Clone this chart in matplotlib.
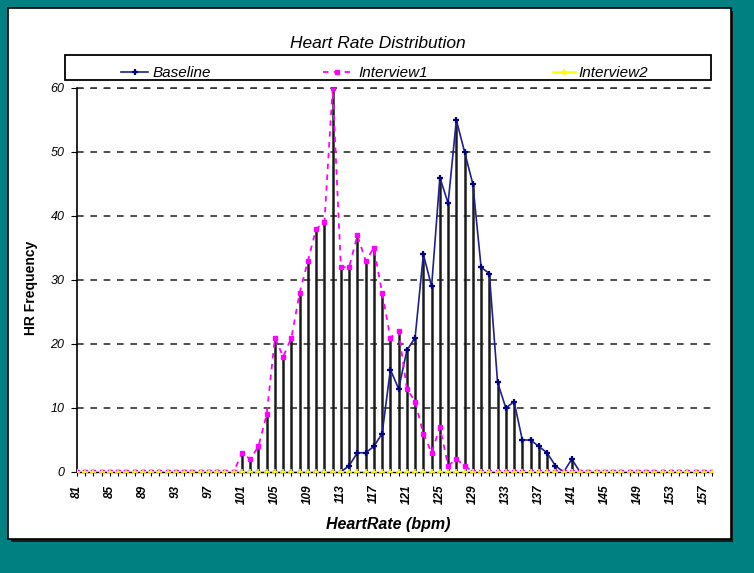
import matplotlib
matplotlib.use("Agg")
import matplotlib.pyplot as plt
from matplotlib.patches import Rectangle
from matplotlib.lines import Line2D
import numpy as np

# ---- data ----
heart_rate = list(range(81, 159))  # 81 .. 158 bpm
tick_labels = [str(v) for v in range(81, 158, 4)]

baseline = ([0] * 32 +                      # 81-112
            [0, 1, 3, 3, 4, 6, 16, 13, 19, 21,   # 113-122
             34, 29, 46, 42, 55, 50, 45, 32, 31, 14,  # 123-132
             10, 11, 5, 5, 4, 3, 1, 0, 2] +   # 133-141
            [0] * 17)                        # 142-158
interview1 = ([0] * 20 +                     # 81-100
              [3, 2, 4, 9, 21, 18, 21, 28, 33, 38,   # 101-110
               39, 60, 32, 32, 37, 33, 35, 28, 21, 22,  # 111-120
               13, 11, 6, 3, 7, 1, 2, 1] +    # 121-128
              [0] * 30)                      # 129-158
interview2 = [0] * 78

series_names = ["Baseline", "Interview1", "Interview2"]

W, H = 754, 573
fig = plt.figure(figsize=(W / 100, H / 100), dpi=100)
fig.patch.set_facecolor("#008080")

def fx(px):
    return px / W

def fy(py):
    return 1 - py / H

# white panel with shadow
fig.add_artist(Rectangle((fx(11), fy(542)), fx(733 - 11), (542 - 11) / H,
                         transform=fig.transFigure, facecolor="#1a1a1a",
                         edgecolor="none", zorder=-2))
fig.add_artist(Rectangle((fx(8), fy(539)), fx(731 - 8), (539 - 8) / H,
                         transform=fig.transFigure, facecolor="white",
                         edgecolor="black", lw=1.2, zorder=-1))

ax = fig.add_axes([fx(77), fy(472), fx(712 - 77), (472 - 88) / H])
ax.set_zorder(1)
ax.set_facecolor("white")

x = np.array(heart_rate)
top = np.maximum(np.maximum(baseline, interview1), interview2)
ax.vlines(x, 0, top, colors="#1a1a1a", lw=1.8, zorder=2)

ax.plot(x, baseline, color="#1f1f8f", lw=1.2, marker="+", ms=5, mew=1.6,
        mec="#000080", zorder=3)
ax.plot(x, interview1, color="#ff00ff", lw=1.3, ls=(0, (3, 3)), marker="s",
        ms=3, mec="#ff00ff", mfc="#ff00ff", zorder=4)
ax.plot(x, interview2, color="#ffff00", lw=1.8, marker="+", ms=4, mew=1.2,
        zorder=5)

ax.set_xlim(81, 158)
ax.set_ylim(0, 60)
ax.set_yticks(range(0, 61, 10))
ax.set_yticklabels([str(v) for v in range(0, 61, 10)], fontstyle="italic",
                   fontsize=9, family="Liberation Sans")
ax.set_xticks(x, minor=True)
ax.set_xticks(range(81, 158, 4))
ax.set_xticklabels(tick_labels, rotation=90, fontsize=8.5, fontweight="bold",
                   fontstyle="italic", family="Liberation Sans")
ax.tick_params(axis="x", which="both", length=3, width=0.8, direction="out",
               pad=6)
ax.tick_params(axis="y", length=4, width=0.8, direction="out", pad=5)
ax.yaxis.grid(True, ls=(0, (4, 4)), color="#333333", lw=1.2)
ax.set_axisbelow(True)
for s in ["top", "right"]:
    ax.spines[s].set_visible(False)
ax.spines["left"].set_linewidth(1.2)
ax.spines["bottom"].set_linewidth(1.0)
ax.axhline(60, ls=(0, (4, 4)), color="#333333", lw=1.2, clip_on=False)

ax.set_ylabel("HR Frequency", fontsize=10, fontweight="bold",
              family="Liberation Sans")
ax.yaxis.set_label_coords(-0.062, 0.48)
fig.text(fx(388), fy(525), "HeartRate (bpm)", ha="center", va="center",
         fontsize=11.5, fontweight="bold", fontstyle="italic",
         family="Liberation Sans")
fig.text(fx(378), fy(44), "Heart Rate Distribution", ha="center",
         va="center", fontsize=12.5, fontstyle="italic",
         family="Liberation Sans")

# legend box
fig.add_artist(Rectangle((fx(65), fy(80)), fx(711 - 65), (80 - 55) / H,
                         transform=fig.transFigure, facecolor="white",
                         edgecolor="black", lw=1.3, zorder=5))
leg_items = [
    (121, 148, 153, dict(color="#1f1f8f", lw=1.2, marker="+", ms=5, mew=1.6,
                         mec="#000080", markevery=[1])),
    (323, 350, 358, dict(color="#ff00ff", lw=1.3, ls=(0, (3, 3)), marker="s",
                         ms=3, mec="#ff00ff", markevery=[1])),
    (553, 575, 578, dict(color="#ffff00", lw=1.8, marker="+", ms=5, mew=1.5,
                         markevery=[1])),
]
for (x0, x1, xt, style), name in zip(leg_items, series_names):
    xm = (x0 + x1) / 2
    fig.add_artist(Line2D([fx(x0), fx(xm), fx(x1)], [fy(72)] * 3,
                          transform=fig.transFigure, zorder=6, **style))
    fig.text(fx(xt), fy(73), name, ha="left", va="center", fontsize=11,
             fontstyle="italic", family="Liberation Sans", zorder=6)

fig.savefig("out.png", dpi=100, facecolor=fig.get_facecolor())
